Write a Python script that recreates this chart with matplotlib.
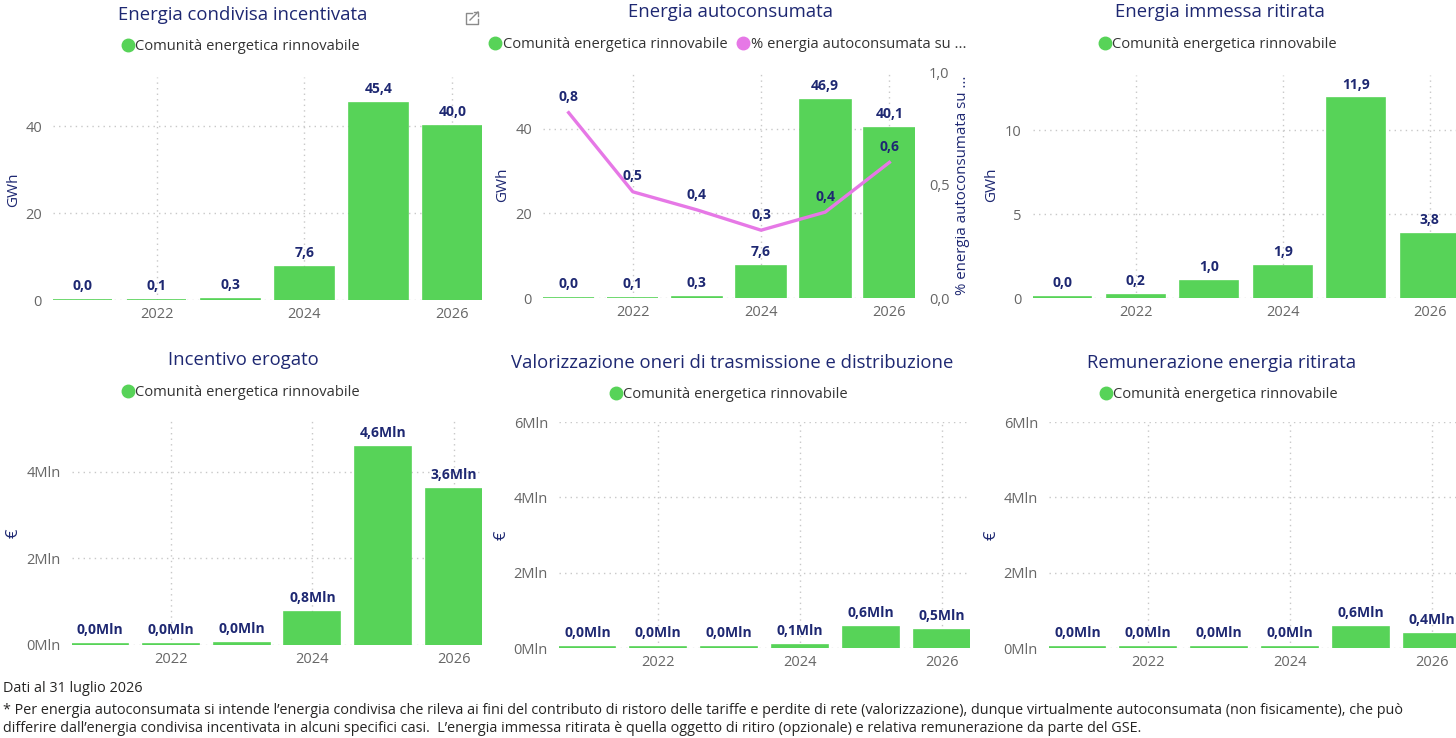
import matplotlib
matplotlib.use("Agg")
import matplotlib.pyplot as plt
from matplotlib.lines import Line2D
from matplotlib.ticker import FuncFormatter

# data
anni = [2021, 2022, 2023, 2024, 2025, 2026]
serie = "Comunità energetica rinnovabile"
serie_perc = "% energia autoconsumata su ..."

energia_condivisa = [0.02, 0.1, 0.3, 7.6, 45.4, 40.0]          # GWh
energia_autoconsumata = [0.02, 0.1, 0.3, 7.6, 46.9, 40.1]      # GWh
perc_autoconsumata = [0.82, 0.47, 0.39, 0.30, 0.38, 0.60]
energia_ritirata = [0.04, 0.2, 1.0, 1.9, 11.9, 3.8]             # GWh
incentivo = [0.02, 0.02, 0.04, 0.77, 4.56, 3.60]               # Mln €
oneri = [0.02, 0.02, 0.02, 0.08, 0.56, 0.47]                   # Mln €
remunerazione = [0.02, 0.02, 0.02, 0.03, 0.56, 0.36]           # Mln €

W, H = 1456, 738
GREEN = "#57D358"
PINK = "#E678E6"
NAVY = "#1E2872"
GRAY = "#666666"
FONT = "Open Sans"

plt.rcParams["font.family"] = [FONT, "DejaVu Sans"]

fig = plt.figure(figsize=(W / 100, H / 100), dpi=100)


def box(l, t, r, b):
    return [l / W, 1 - b / H, (r - l) / W, (b - t) / H]


def fx(x):
    return x / W


def fy(y):
    return 1 - y / H


def virgola(v, dec=1):
    return f"{v:.{dec}f}".replace(".", ",")


def pannello(rect, valori, ylim, yticks, fmt_tick, fmt_lab):
    ax = fig.add_axes(box(*rect))
    ax.bar(anni, valori, width=0.79, color=GREEN, edgecolor=GREEN, linewidth=1.2, zorder=2)
    ax.set_xlim(2020.6, 2026.4)
    ax.set_ylim(*ylim)
    ax.set_xticks([2022, 2024, 2026])
    ax.set_yticks(yticks)
    ax.yaxis.set_major_formatter(FuncFormatter(fmt_tick))
    ax.tick_params(length=0, labelsize=10.5, labelcolor=GRAY)
    ax.tick_params(axis="y", pad=8)
    ax.tick_params(axis="x", pad=5)
    ax.grid(True, color="#C8C8C8", linestyle=(0, (1, 3)), linewidth=1, zorder=0)
    for s in ax.spines.values():
        s.set_visible(False)
    for x, v in zip(anni, valori):
        ax.annotate(fmt_lab(v), (x, v), xytext=(0, 5), textcoords="offset points",
                    ha="center", va="bottom", fontsize=10, fontweight="bold",
                    color=NAVY, zorder=4)
    return ax


def titolo(x, y, testo):
    fig.text(fx(x), fy(y), testo, ha="center", va="center", fontsize=13.3, color=NAVY)


def legenda(x, y, voci):
    handles = [Line2D([], [], marker="o", linestyle="none", markersize=9, color=c)
               for c, _ in voci]
    fig.legend(handles, [t for _, t in voci], loc="center", bbox_to_anchor=(fx(x), fy(y)),
               frameon=False, fontsize=10.6, handletextpad=0.0, handlelength=1.0,
               columnspacing=0.6, ncol=len(voci), borderpad=0, labelcolor="#333333")


def etichetta_y(x, y, testo, size=11):
    fig.text(fx(x), fy(y), testo, ha="center", va="center", rotation=90,
             fontsize=size, color=NAVY)


gwh_tick = lambda v, p: f"{v:g}"
gwh_lab = lambda v: virgola(v)
mln_tick = lambda v, p: f"{v:g}Mln"
mln_lab = lambda v: virgola(v) + "Mln"

# riga superiore
ax1 = pannello((53, 77, 482, 300), energia_condivisa, (0, 51.3), [0, 20, 40], gwh_tick, gwh_lab)
titolo(243, 15, "Energia condivisa incentivata")
legenda(240, 47, [(GREEN, serie)])
etichetta_y(14, 190, "GWh")
# icona "focus mode" in alto a destra del primo pannello
icona = dict(color="#8A8A8A", linewidth=1.0, transform=fig.transFigure)
fig.add_artist(Line2D([fx(472), fx(466), fx(466), fx(478), fx(478)],
                      [fy(13), fy(13), fy(24), fy(24), fy(19)], **icona))
fig.add_artist(Line2D([fx(470), fx(478)], [fy(20), fy(12)], **icona))
fig.add_artist(Line2D([fx(474), fx(478), fx(478)], [fy(12), fy(12), fy(16)], **icona))

ax2 = pannello((543, 72, 915, 298), energia_autoconsumata, (0, 53.4), [0, 20, 40], gwh_tick, gwh_lab)
ax2b = ax2.twinx()
ax2b.plot(anni, perc_autoconsumata, color=PINK, linewidth=2.4, zorder=3)
ax2b.set_ylim(0, 1.0)
ax2b.set_yticks([0, 0.5, 1.0])
ax2b.yaxis.set_major_formatter(FuncFormatter(lambda v, p: virgola(v)))
ax2b.tick_params(length=0, labelsize=10.5, labelcolor=GRAY, pad=10)
for s in ax2b.spines.values():
    s.set_visible(False)
for x, v in zip(anni, perc_autoconsumata):
    ax2b.annotate(virgola(v), (x, v), xytext=(0, 6), textcoords="offset points",
                  ha="center", va="bottom", fontsize=10, fontweight="bold", color=NAVY)
titolo(731, 12, "Energia autoconsumata")
legenda(727, 45, [(GREEN, serie), (PINK, serie_perc)])
etichetta_y(503, 185, "GWh")
etichetta_y(962, 185, serie_perc, size=10.8)

ax3 = pannello((1033, 75, 1459, 298), energia_ritirata, (0, 13.3), [0, 5, 10], gwh_tick, gwh_lab)
titolo(1220, 12, "Energia immessa ritirata")
legenda(1217, 45, [(GREEN, serie)])
etichetta_y(992, 185, "GWh")

# riga inferiore
ax4 = pannello((72, 420, 482, 645), incentivo, (0, 5.19), [0, 2, 4], mln_tick, mln_lab)
titolo(243, 360, "Incentivo erogato")
legenda(240, 393, [(GREEN, serie)])
etichetta_y(14, 533, "€", size=12)

ax5 = pannello((559, 422, 970, 648), oneri, (0, 6), [0, 2, 4, 6], mln_tick, mln_lab)
titolo(732, 363, "Valorizzazione oneri di trasmissione e distribuzione")
legenda(728, 395, [(GREEN, serie)])
etichetta_y(502, 535, "€", size=12)

ax6 = pannello((1049, 422, 1460, 648), remunerazione, (0, 6), [0, 2, 4, 6], mln_tick, mln_lab)
titolo(1222, 363, "Remunerazione energia ritirata")
legenda(1218, 395, [(GREEN, serie)])
etichetta_y(992, 535, "€", size=12)

# note
note = [
    "Dati al 31 luglio 2026",
    "* Per energia autoconsumata si intende l’energia condivisa che rileva ai fini del contributo di ristoro delle tariffe e perdite di rete (valorizzazione), dunque virtualmente autoconsumata (non fisicamente), che può",
    "differire dall’energia condivisa incentivata in alcuni specifici casi.  L’energia immessa ritirata è quella oggetto di ritiro (opzionale) e relativa remunerazione da parte del GSE.",
]
for y, riga in zip([689, 710, 729], note):
    fig.text(fx(3), fy(y), riga, ha="left", va="center", fontsize=10.4, color="#252423")

fig.savefig("out.png", dpi=100, facecolor="white")
